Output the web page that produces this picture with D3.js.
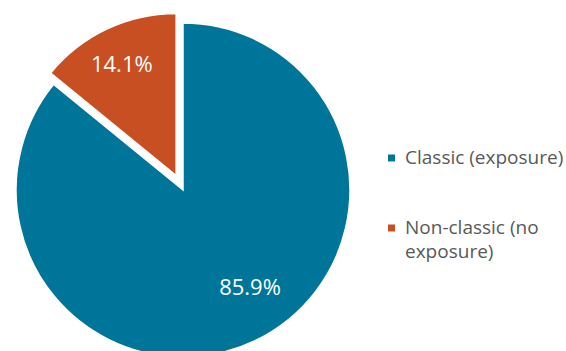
<!DOCTYPE html>
<html>
<head>
<meta charset="utf-8"/>
<script src="https://cdn.jsdelivr.net/npm/d3@7"></script>
<style>
body { margin: 0; background: #fff; }
.lbl { font-family: "Open Sans", "Noto Sans", sans-serif; font-size: 22px; fill: #fff; text-anchor: middle; }
.legend text { font-family: "Open Sans", "Noto Sans", sans-serif; font-size: 19px; fill: #595959; }
</style>
</head>
<body>
<svg id="chart" width="566" height="351"></svg>
<script>
// data
var categories = ["Classic (exposure)", "Non-classic (no exposure)"];
var values = [85.9, 14.1];
var colors = ["#00759a", "#c84f22"];
var legendLines = [["Classic (exposure)"], ["Non-classic (no", "exposure)"]];

var svg = d3.select("#chart");
var cx = 183, cy = 190;

// orange starts at 12 o'clock going counter-clockwise, blue takes the rest
var pie = d3.pie().sort(null)
    .startAngle(-2 * Math.PI * values[1] / 100)
    .endAngle(2 * Math.PI - 2 * Math.PI * values[1] / 100);
var slices = pie([values[1], values[0]]);
// reorder so index matches categories
var byCat = [slices[1], slices[0]];

var radius = [167, 162];
var explode = [0, 16];
var labelAt = [{r: 118, a: 145.4}, {r: 124, a: -26}];

var g = svg.append("g").attr("transform", "translate(" + cx + "," + cy + ")");

byCat.forEach(function(d, i) {
  var mid = (d.startAngle + d.endAngle) / 2;
  var ox = Math.sin(mid) * explode[i], oy = -Math.cos(mid) * explode[i];
  var arc = d3.arc().innerRadius(0).outerRadius(radius[i]);
  var sg = g.append("g").attr("transform", "translate(" + ox + "," + oy + ")");
  sg.append("path")
    .attr("d", arc(d))
    .attr("fill", colors[i])
    .attr("stroke", "#fff")
    .attr("stroke-width", 1.5)
    .attr("stroke-linejoin", "miter");
  var la = labelAt[i].a * Math.PI / 180;
  sg.append("text")
    .attr("class", "lbl")
    .attr("x", Math.sin(la) * labelAt[i].r)
    .attr("y", -Math.cos(la) * labelAt[i].r)
    .attr("dy", "0.36em")
    .text(d3.format(".1f")(values[i]) + "%");
});

var legend = svg.append("g").attr("class", "legend");
var legendY = d3.scalePoint().domain(categories).range([158, 228]);
categories.forEach(function(c, i) {
  var y = legendY(c);
  legend.append("rect")
    .attr("x", 388).attr("y", y - 3.5)
    .attr("width", 7).attr("height", 7)
    .attr("fill", colors[i]);
  var t = legend.append("text").attr("x", 405).attr("y", y + 6);
  legendLines[i].forEach(function(line, j) {
    t.append("tspan").attr("x", 405).attr("dy", j ? 24 : 0).text(line);
  });
});
</script>
</body>
</html>
